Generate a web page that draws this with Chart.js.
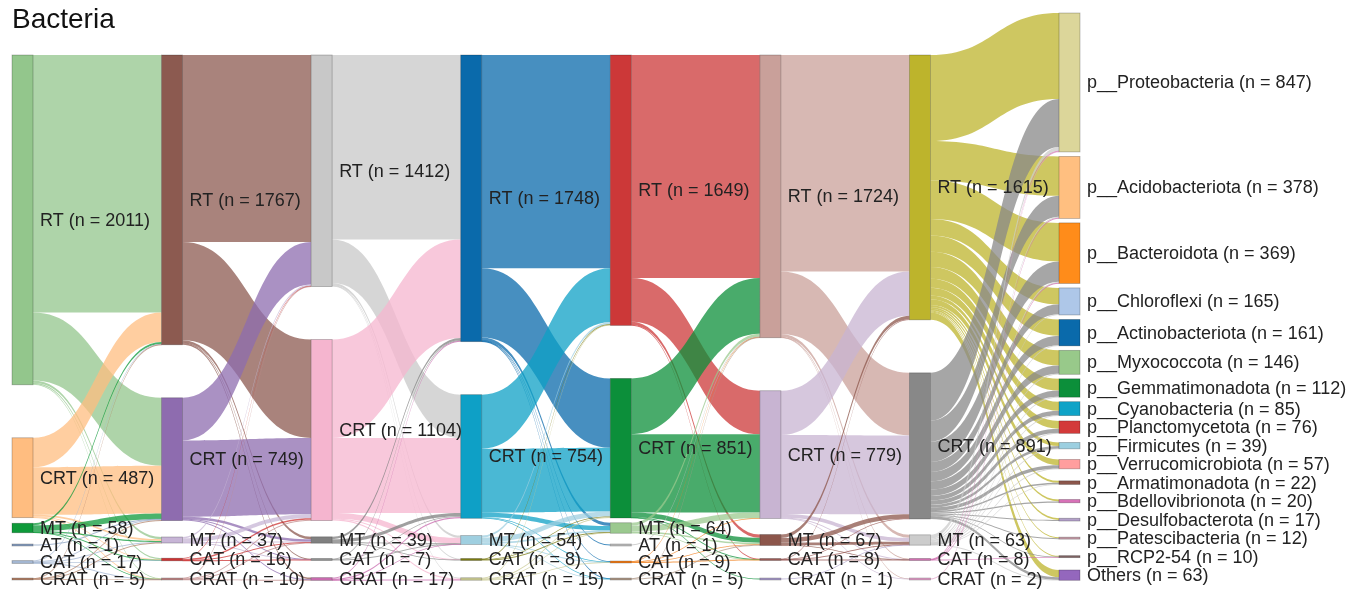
<!DOCTYPE html>
<html>
<head>
<meta charset="utf-8">
<script src="https://cdn.jsdelivr.net/npm/chart.js@4.4.1/dist/chart.umd.min.js"></script>
<style>
html,body{margin:0;padding:0;background:#fff;}
#wrap{width:1362px;height:594px;position:relative;}
</style>
</head>
<body>
<div id="wrap"><canvas id="c"></canvas></div>
<script>
// ---------------- DATA ----------------
const TITLE = 'Bacteria';
const stageNodeNames = ['RT', 'CRT', 'MT', 'AT', 'CAT', 'CRAT'];
// counts per time-point column (null = category absent)
const stage1 = [2011, 487, 58, 1, 17, 5];
const stage2 = [1767, 749, 37, null, 16, 10];
const stage3 = [1412, 1104, 39, null, 7, 17];
const stage4 = [1748, 754, 54, null, 8, 15];
const stage5 = [1649, 851, 64, 1, 9, 5];
const stage6 = [1724, 779, 67, null, 8, 1];
const stage7 = [1615, 891, 63, null, 8, 2];

const phylumNames = ['p__Proteobacteria', 'p__Acidobacteriota', 'p__Bacteroidota', 'p__Chloroflexi',
  'p__Actinobacteriota', 'p__Myxococcota', 'p__Gemmatimonadota', 'p__Cyanobacteria', 'p__Planctomycetota',
  'p__Firmicutes', 'p__Verrucomicrobiota', 'p__Armatimonadota', 'p__Bdellovibrionota', 'p__Desulfobacterota',
  'p__Patescibacteria', 'p__RCP2-54', 'Others'];
const phylumCounts = [847, 378, 369, 165, 161, 146, 112, 85, 76, 39, 57, 22, 20, 17, 12, 10, 63];

// flows: rows = source nodes present (top to bottom), columns = target nodes present
const flow12 = [
  [1570, 415, 14, 7, 5],
  [180, 290, 10, 5, 2],
  [12, 35, 8, 2, 1],
  [0, 1, 0, 0, 0],
  [4, 6, 4, 2, 1],
  [1, 2, 1, 0, 1]
];
const flow23 = [
  [1140, 600, 15, 3, 9],
  [260, 465, 15, 2, 7],
  [8, 24, 4, 1, 0],
  [3, 10, 2, 1, 0],
  [1, 5, 3, 0, 1]
];
const flow34 = [
  [1125, 265, 14, 3, 5],
  [600, 457, 35, 4, 8],
  [15, 20, 3, 1, 0],
  [2, 4, 1, 0, 0],
  [6, 8, 1, 0, 2]
];
const flow45 = [
  [1300, 422, 20, 1, 3, 2],
  [330, 390, 28, 0, 4, 2],
  [12, 30, 10, 0, 1, 1],
  [2, 4, 2, 0, 0, 0],
  [5, 5, 4, 0, 1, 0]
];
const flow56 = [
  [1360, 266, 20, 3, 0],
  [340, 477, 30, 3, 1],
  [18, 35, 10, 1, 0],
  [1, 0, 0, 0, 0],
  [3, 1, 4, 1, 0],
  [2, 0, 3, 0, 0]
];
const flow67 = [
  [1320, 382, 18, 3, 1],
  [270, 481, 24, 3, 1],
  [22, 27, 17, 1, 0],
  [3, 1, 3, 1, 0],
  [0, 0, 1, 0, 0]
];
const flow7P = [
  [525, 240, 235, 100, 100, 92, 72, 55, 48, 22, 35, 12, 12, 10, 6, 6, 45],
  [292, 128, 124, 61, 57, 51, 38, 28, 26, 16, 21, 9, 8, 7, 6, 3, 16],
  [24, 8, 9, 4, 4, 3, 2, 2, 2, 1, 1, 1, 0, 0, 0, 0, 2],
  [4, 2, 1, 0, 0, 0, 0, 0, 0, 0, 0, 0, 0, 0, 0, 1, 0],
  [2, 0, 0, 0, 0, 0, 0, 0, 0, 0, 0, 0, 0, 0, 0, 0, 0]
];

// ---------------- STYLES ----------------
const stageColors = [
  ['#93c68c', '#ffbd80', '#0e9a3a', '#8aa0c0', '#a3b6d1', '#b3836a'],
  ['#8c5a50', '#8e6caf', '#c7b5d6', null, '#cc3333', '#c08a8a'],
  ['#c8c8c8', '#f5b5cf', '#808080', null, '#909090', '#c86aae'],
  ['#0a6aab', '#0ea0c6', '#9fcfe0', null, '#7a7a10', '#c8c890'],
  ['#cc3838', '#0c8f3a', '#9bc98f', '#c0c0c0', '#f07d1a', '#b09a8a'],
  ['#c9a09a', '#c8b4d2', '#8c564b', null, '#9a5a55', '#a89cc8'],
  ['#bdb42c', '#888888', '#cccccc', null, '#d070b0', '#e0a0c8']
];
const phylumColors = ['#dcd69a', '#ffbf80', '#ff8c1a', '#aec7e8', '#0a6aab', '#98c98a', '#0c8f3a', '#0fa3c7',
  '#d33a3a', '#9ccfe0', '#ff9e9e', '#8c564b', '#d771b7', '#b3a0c9', '#c49aa6', '#7e6363', '#9467bd'];

const NODE_W = 21;
const LINK_ALPHA = 0.75;
const STAGE_TOP_OFFSET = 42;   // px below chart area top for time-point columns
const BIG_GAP = 53;            // px between RT and CRT blocks
const SMALL_SPACING_4 = 17;    // px between small node centres (4 small nodes)
const SMALL_SPACING_3 = 19.5;  // px (3 small nodes)
const PHY_GAP = 4.5;
const PHY_MIN_SPACING = 18.5;
const FONT = '"Liberation Sans", Arial, sans-serif';

const columns = [stage1, stage2, stage3, stage4, stage5, stage6, stage7];
const flows = [flow12, flow23, flow34, flow45, flow56, flow67, flow7P];
const TOTAL = stage1.reduce((a, b) => a + (b || 0), 0);
const Y_RANGE = TOTAL * 1.343;

function rgba(hex, a) {
  const n = parseInt(hex.slice(1), 16);
  return `rgba(${(n >> 16) & 255},${(n >> 8) & 255},${n & 255},${a})`;
}

function buildLayout(chart) {
  const xs = chart.scales.x, ys = chart.scales.y, ca = chart.chartArea;
  const k = Math.abs(ys.getPixelForValue(1) - ys.getPixelForValue(0));
  const top0 = ys.getPixelForValue(0);
  const cols = [];
  for (let c = 0; c < columns.length; c++) {
    const x0 = xs.getPixelForValue(c);
    const nodes = [];
    columns[c].forEach((v, i) => {
      if (v != null) nodes.push({ label: stageNodeNames[i] + ' (n = ' + v + ')', value: v, color: stageColors[c][i], x0 });
    });
    nodes.forEach(n => n.h = n.value * k);
    nodes[0].y0 = top0 + STAGE_TOP_OFFSET;
    nodes[1].y0 = nodes[0].y0 + nodes[0].h + BIG_GAP;
    const small = nodes.slice(2);
    const s = small.length >= 4 ? SMALL_SPACING_4 : SMALL_SPACING_3;
    small.forEach((n, i) => {
      const cy = ca.bottom - 2 - (small.length - 1 - i) * s;
      n.y0 = cy - n.h / 2;
    });
    cols.push(nodes);
  }
  // phylum column
  const xP = xs.getPixelForValue(columns.length);
  const pn = [];
  let prevBottom = top0 - PHY_GAP, prevCy = -1e9;
  phylumCounts.forEach((v, i) => {
    const h = v * k;
    let y0 = prevBottom + PHY_GAP;
    let cy = y0 + h / 2;
    if (cy < prevCy + PHY_MIN_SPACING) { cy = prevCy + PHY_MIN_SPACING; y0 = cy - h / 2; }
    pn.push({ label: phylumNames[i] + ' (n = ' + v + ')', value: v, color: phylumColors[i], x0: xP, y0, h });
    prevBottom = y0 + h; prevCy = cy;
  });
  cols.push(pn);

  const links = [];
  for (let c = 0; c < flows.length; c++) {
    const src = cols[c], tgt = cols[c + 1], m = flows[c];
    const L = [];
    for (let i = 0; i < m.length; i++)
      for (let j = 0; j < m[i].length; j++)
        if (m[i][j] > 0) L.push({ i, j, v: m[i][j], w: m[i][j] * k, color: src[i].color,
          x0: src[i].x0 + NODE_W, x1: tgt[j].x0 });
    const so = src.map(n => n.y0), to = tgt.map(n => n.y0);
    L.forEach(l => { l.sy = so[l.i]; so[l.i] += l.w; });
    for (let j = 0; j < tgt.length; j++)
      L.filter(l => l.j === j).forEach(l => { l.ty = to[j]; to[j] += l.w; });
    links.push(...L);
  }
  return { cols, links };
}

const sankeyPlugin = {
  id: 'sankeyDraw',
  afterDraw(chart) {
    const ctx = chart.ctx;
    const { cols, links } = buildLayout(chart);
    ctx.save();
    // links
    links.forEach(l => {
      const ww = Math.max(l.w, 0.9);
      const sy = l.sy + l.w / 2 - ww / 2, ty = l.ty + l.w / 2 - ww / 2;
      const xm = (l.x0 + l.x1) / 2;
      ctx.beginPath();
      ctx.moveTo(l.x0, sy);
      ctx.bezierCurveTo(xm, sy, xm, ty, l.x1, ty);
      ctx.lineTo(l.x1, ty + ww);
      ctx.bezierCurveTo(xm, ty + ww, xm, sy + ww, l.x0, sy + ww);
      ctx.closePath();
      ctx.fillStyle = rgba(l.color, LINK_ALPHA);
      ctx.fill();
    });
    // nodes
    cols.forEach(nodes => nodes.forEach(n => {
      const h = Math.max(n.h, 2);
      const y = n.y0 + n.h / 2 - h / 2;
      ctx.fillStyle = n.color;
      ctx.fillRect(n.x0, y, NODE_W, h);
      ctx.strokeStyle = 'rgba(0,0,0,0.28)';
      ctx.lineWidth = 0.8;
      ctx.strokeRect(n.x0, y, NODE_W, h);
    }));
    // labels
    ctx.font = '18px ' + FONT;
    ctx.fillStyle = '#222';
    ctx.textBaseline = 'middle';
    ctx.textAlign = 'left';
    cols.forEach(nodes => nodes.forEach(n => {
      ctx.fillText(n.label, n.x0 + NODE_W + 7, n.y0 + n.h / 2 + 1);
    }));
    // title
    ctx.font = '28px ' + FONT;
    ctx.fillStyle = '#111';
    ctx.textBaseline = 'alphabetic';
    ctx.fillText(TITLE, 12, 28);
    ctx.restore();
  }
};

new Chart(document.getElementById('c'), {
  type: 'scatter',
  data: { datasets: [] },
  options: {
    responsive: true,
    maintainAspectRatio: false,
    animation: false,
    layout: { padding: { left: 12, right: 303, top: 13, bottom: 13 } },
    plugins: { legend: { display: false }, tooltip: { enabled: false } },
    scales: {
      x: { type: 'linear', min: 0, max: columns.length, display: false },
      y: { type: 'linear', min: 0, max: Y_RANGE, reverse: true, display: false }
    }
  },
  plugins: [sankeyPlugin]
});
</script>
</body>
</html>
